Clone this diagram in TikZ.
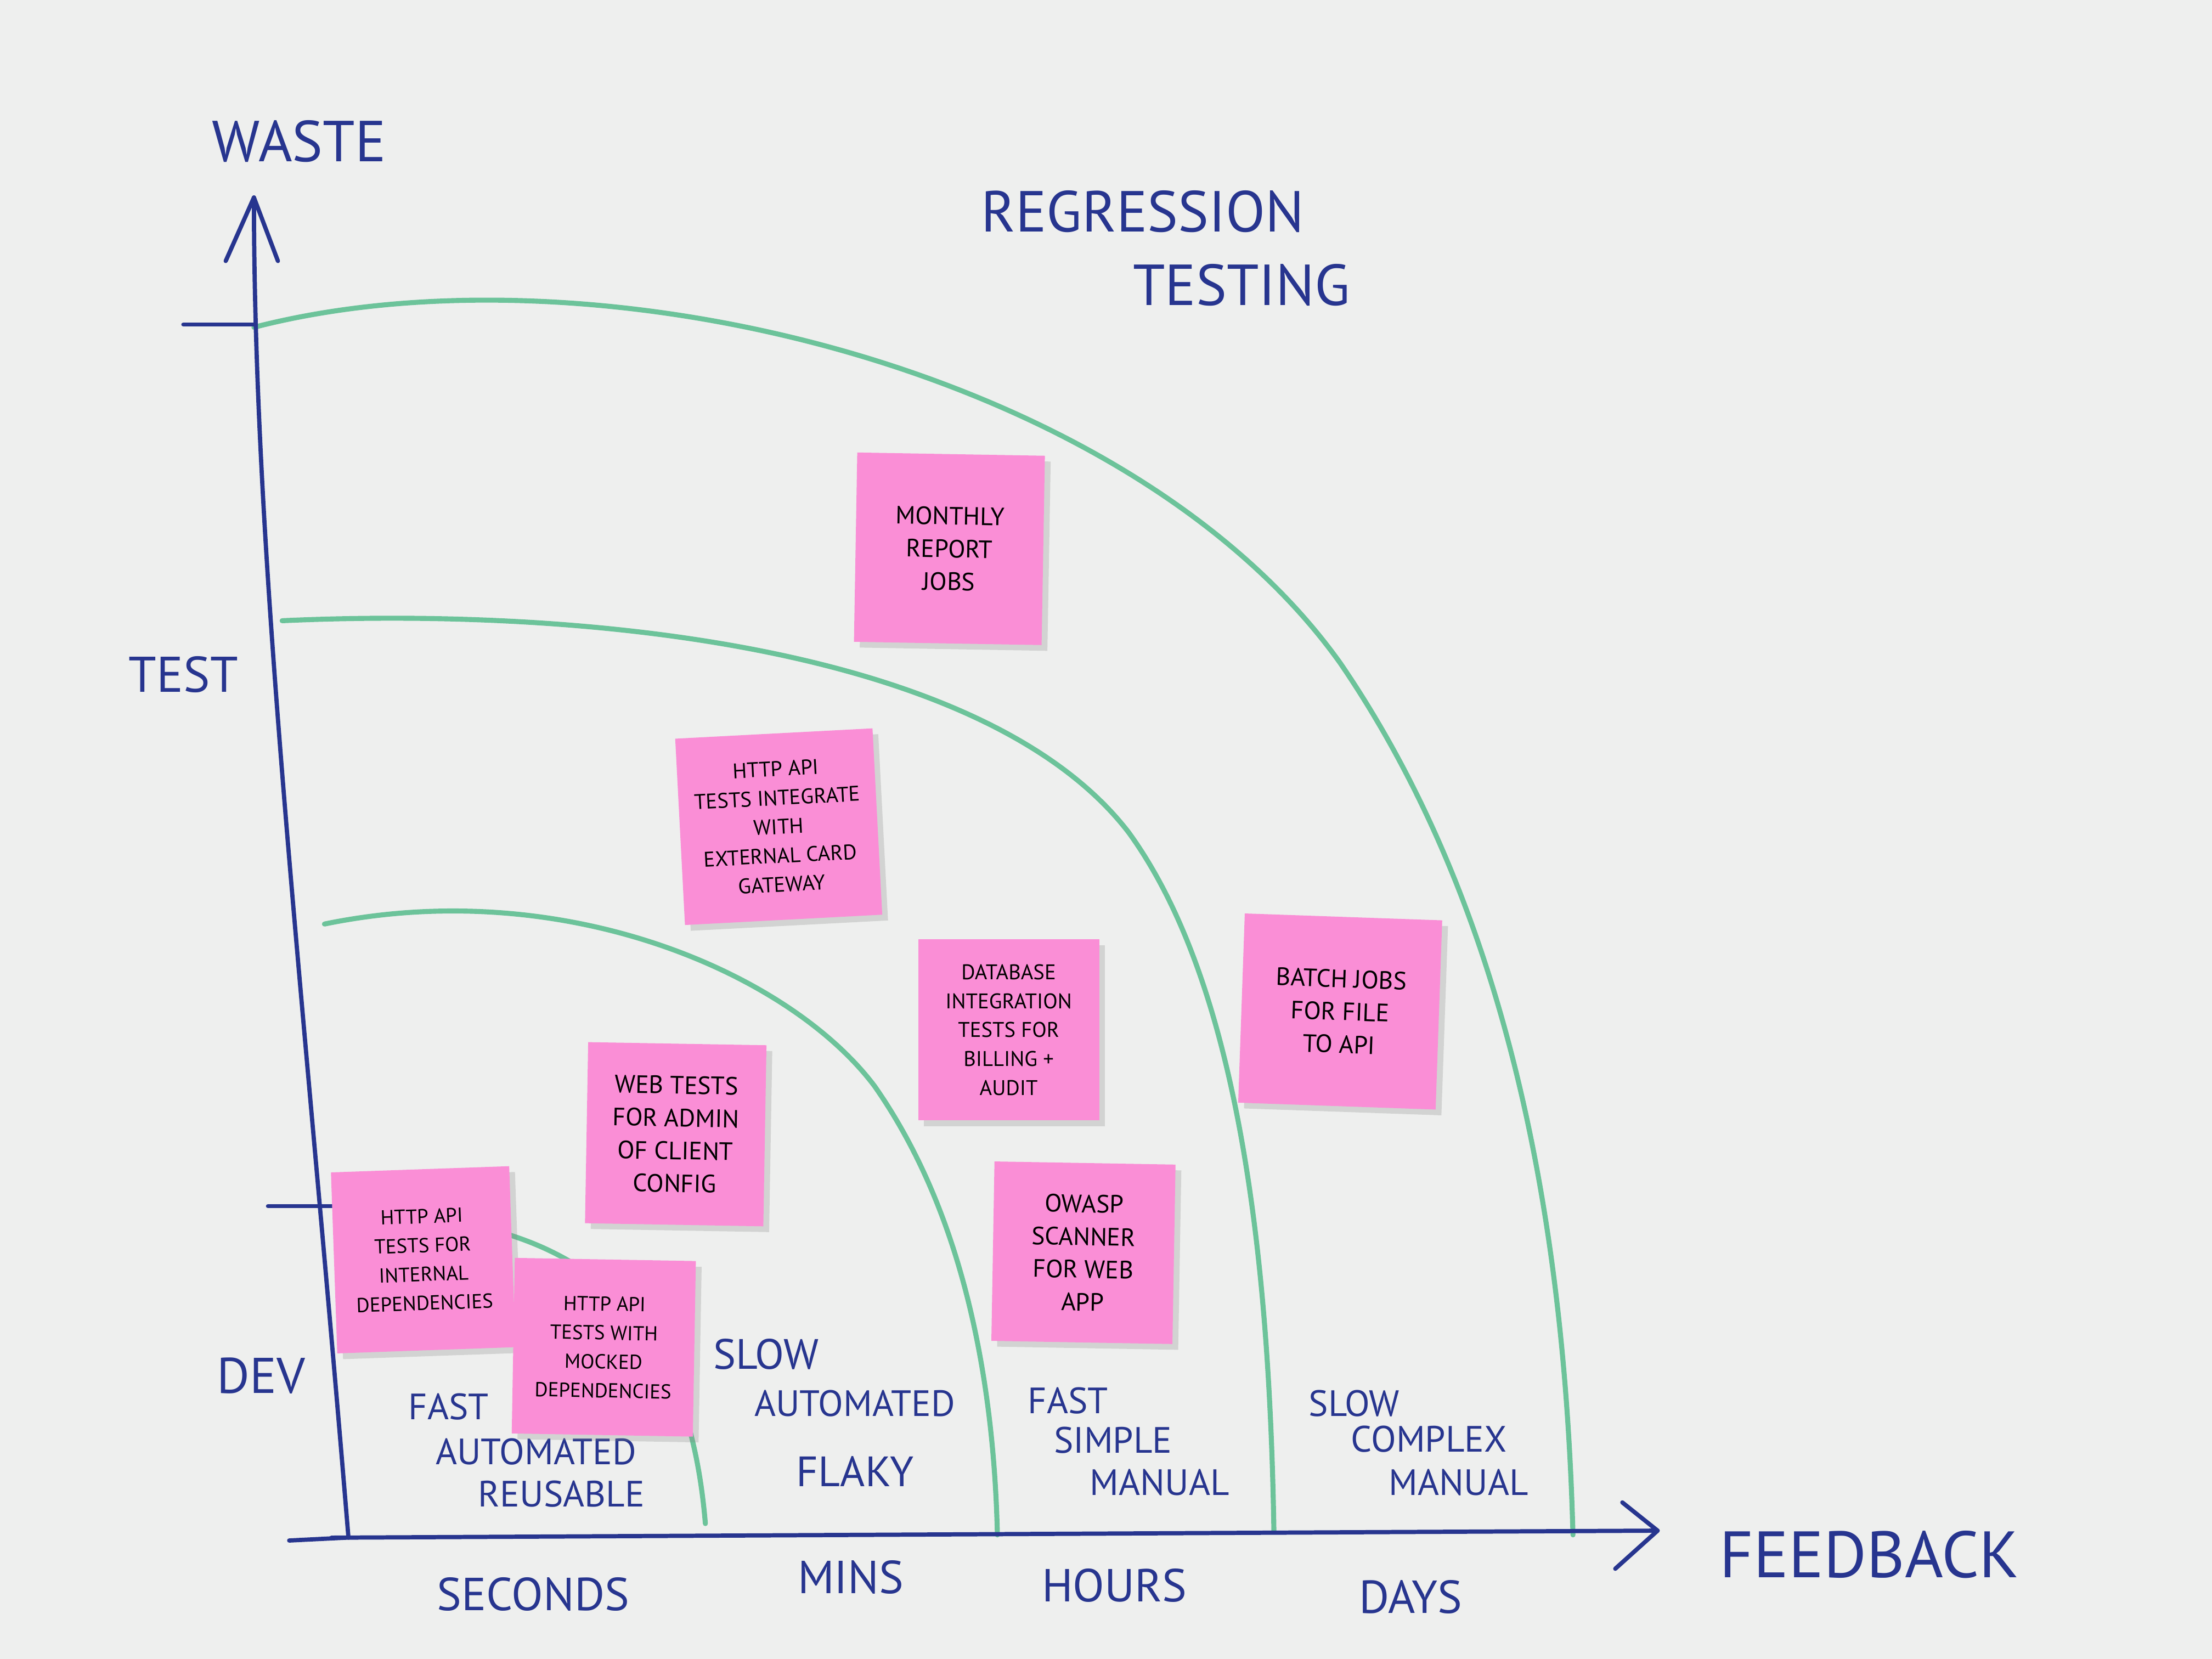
\documentclass[tikz,border=0pt]{standalone}
\usepackage{fontspec}
\setmainfont{PT Sans}
\usetikzlibrary{shadows}
\begin{document}
\begin{tikzpicture}[x=0.025714cm,y=-0.025714cm,
  ink/.style={draw=inkblue,line width=2.2pt,line cap=round,line join=round},
  curve/.style={draw=curvegreen,line width=2.6pt,line cap=round},
  lbl/.style={text=inkblue,font=\fontsize{30}{30}\selectfont,inner sep=0pt},
  cat/.style={text=inkblue,font=\fontsize{19}{19}\selectfont,inner sep=0pt},
  note/.style={fill=notepink,draw=none,align=center,text=black,font=\fontsize{13}{17}\selectfont,inner sep=2pt,
    drop shadow={opacity=0.25,shadow xshift=3pt,shadow yshift=-3pt}}]
\definecolor{inkblue}{HTML}{27358F}
\definecolor{curvegreen}{HTML}{6CC39A}
\definecolor{notepink}{HTML}{FA8ED6}
\definecolor{board}{HTML}{EEEFEE}
\fill[board] (0,0) rectangle (1568,1176);
\useasboundingbox (0,0) rectangle (1568,1176);
% curves
\draw[curve] (180,232) .. controls (420,170) and (800,260) .. (950,470) .. controls (1080,660) and (1110,900) .. (1115,1088);
\draw[curve] (200,440) .. controls (420,430) and (700,460) .. (800,590) .. controls (880,700) and (900,900) .. (903,1085);
\draw[curve] (230,655) .. controls (400,620) and (560,690) .. (620,770) .. controls (690,870) and (705,1000) .. (707,1088);
\draw[curve] (360,875) .. controls (440,900) and (490,960) .. (500,1080);
% axes
\coordinate (ytop) at (180,140);
\coordinate (ybot) at (247,1090);
\coordinate (xl) at (235,1090);
\coordinate (xr) at (1175,1085);
\draw[ink] (ybot) .. controls (215,700) and (180,400) .. (ytop);
\draw[ink] (160,185) -- (ytop) -- (197,185);
\draw[ink] (xl) -- (xr);
\draw[ink] (1150,1065) -- (xr) -- (1145,1112);
\draw[ink] (130,230) -- (180,230);
\draw[ink] (190,855) -- (240,855);
\draw[ink] (205,1092) -- (245,1090);
% labels
\node[lbl] (waste) at (212,100) {WASTE};
\node[lbl,font=\fontsize{26}{26}\selectfont] (test) at (130,478) {TEST};
\node[lbl,font=\fontsize{26}{26}\selectfont] (dev) at (185,975) {DEV};
\node[lbl,font=\fontsize{34}{34}\selectfont] (fb) at (1325,1102) {FEEDBACK};
\node[lbl] (reg1) at (810,150) {REGRESSION};
\node[lbl] (reg2) at (880,202) {TESTING};
\node[lbl,font=\fontsize{24}{24}\selectfont] (sec) at (378,1130) {SECONDS};
\node[lbl,font=\fontsize{24}{24}\selectfont] (mins) at (603,1118) {MINS};
\node[lbl,font=\fontsize{24}{24}\selectfont] (hours) at (790,1124) {HOURS};
\node[lbl,font=\fontsize{24}{24}\selectfont] (days) at (1000,1132) {DAYS};
\node[cat] (c1a) at (318,997) {FAST};
\node[cat] (c1b) at (380,1029) {AUTOMATED};
\node[cat] (c1c) at (398,1059) {REUSABLE};
\node[cat,font=\fontsize{22}{22}\selectfont] (c2a) at (543,960) {SLOW};
\node[cat] (c2b) at (606,995) {AUTOMATED};
\node[cat,font=\fontsize{22}{22}\selectfont] (c2c) at (606,1043) {FLAKY};
\node[cat] (c3a) at (757,993) {FAST};
\node[cat] (c3b) at (789,1021) {SIMPLE};
\node[cat] (c3c) at (822,1051) {MANUAL};
\node[cat] (c4a) at (960,995) {SLOW};
\node[cat] (c4b) at (1013,1020) {COMPLEX};
\node[cat] (c4c) at (1034,1051) {MANUAL};
% notes
\node[note,minimum width=3.42cm,minimum height=3.45cm,rotate=-1] (n1) at (673,389) {MONTHLY\\REPORT\\JOBS};
\node[note,minimum width=3.6cm,minimum height=3.4cm,rotate=3,font=\fontsize{11}{15}\selectfont] (n2) at (552,586) {HTTP API\\TESTS INTEGRATE\\WITH\\EXTERNAL CARD\\GATEWAY};
\node[note,minimum width=3.3cm,minimum height=3.3cm,font=\fontsize{11}{15}\selectfont] (n3) at (715,730) {DATABASE\\INTEGRATION\\TESTS FOR\\BILLING + \\AUDIT};
\node[note,minimum width=3.6cm,minimum height=3.45cm,rotate=-2] (n4) at (950,717) {BATCH JOBS\\FOR FILE\\TO API};
\node[note,minimum width=3.25cm,minimum height=3.3cm,rotate=-1] (n5) at (479,804) {WEB TESTS\\FOR ADMIN\\OF CLIENT\\CONFIG};
\node[note,minimum width=3.3cm,minimum height=3.27cm,rotate=-1] (n6) at (768,888) {OWASP\\SCANNER\\FOR WEB\\APP};
\node[note,minimum width=3.25cm,minimum height=3.3cm,rotate=2,font=\fontsize{10.5}{15}\selectfont] (n7) at (300,893) {HTTP API\\TESTS FOR\\INTERNAL\\DEPENDENCIES};
\node[note,minimum width=3.3cm,minimum height=3.2cm,rotate=-1,font=\fontsize{10.5}{15}\selectfont] (n8) at (428,955) {HTTP API\\TESTS WITH\\MOCKED\\DEPENDENCIES};
\end{tikzpicture}
\end{document}
